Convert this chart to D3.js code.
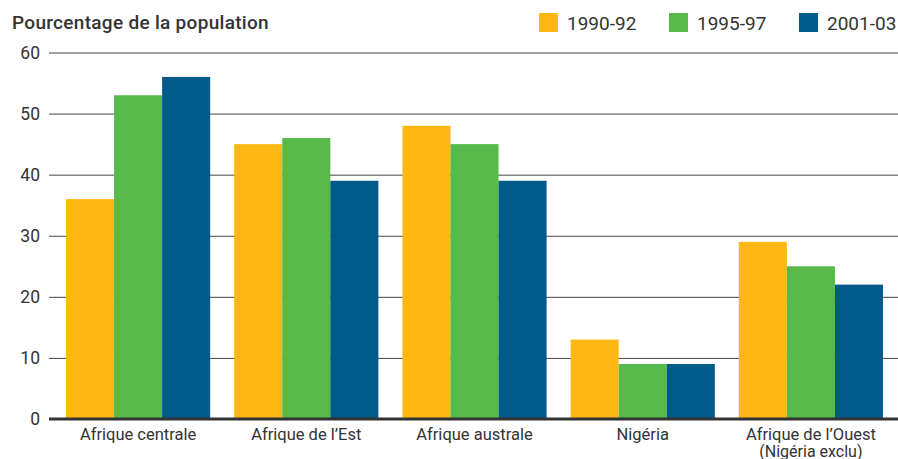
<!DOCTYPE html>
<html>
<head>
<meta charset="utf-8">
<script src="https://cdn.jsdelivr.net/npm/d3@7"></script>
<style>
  body { margin: 0; background: #fff; }
  text { font-family: Roboto, "Liberation Sans", sans-serif; fill: #333; }
</style>
</head>
<body>
<div id="chart"></div>
<script>
// data
const categories = ["Afrique centrale", "Afrique de l\u2019Est", "Afrique australe", "Nigéria", "Afrique de l\u2019Ouest\n(Nigéria exclu)"];
const seriesNames = ["1990-92", "1995-97", "2001-03"];
const values1990 = [36, 45, 48, 13, 29];
const values1995 = [53, 46, 45, 9, 25];
const values2001 = [56, 39, 39, 9, 22];
const yTicks = [0, 10, 20, 30, 40, 50, 60];
const colors = ["#fdb813", "#57b94a", "#005a8a"];

const width = 898, height = 459;
const allSeries = [values1990, values1995, values2001];

const svg = d3.select("#chart").append("svg")
    .attr("width", width)
    .attr("height", height);

const x0 = d3.scaleBand()
    .domain(categories)
    .range([66, 883])
    .paddingInner(24 / 168)
    .paddingOuter(0);

const x1 = d3.scaleBand()
    .domain(seriesNames)
    .range([0, x0.bandwidth()]);

const y = d3.scaleLinear()
    .domain([0, 60])
    .range([419, 52.5]);

// gridlines + y labels
const yAxis = d3.axisLeft(y)
    .tickValues(yTicks)
    .tickSize(-(width - 49))
    .tickPadding(9);

const yG = svg.append("g")
    .attr("transform", "translate(49,0)")
    .call(yAxis);
yG.select(".domain").remove();
yG.selectAll(".tick line").attr("stroke", "#444").attr("stroke-width", 1);
yG.selectAll(".tick text")
    .attr("x", -9)
    .style("font-size", "17.5px")
    .style("fill", "#333");

// bars
const groups = svg.append("g")
    .selectAll("g")
    .data(categories)
    .join("g")
    .attr("transform", d => `translate(${x0(d)},0)`);

groups.selectAll("rect")
    .data((d, i) => seriesNames.map((s, j) => ({s, v: allSeries[j][i], j})))
    .join("rect")
    .attr("x", d => x1(d.s))
    .attr("width", x1.bandwidth())
    .attr("y", d => y(d.v))
    .attr("height", d => y(0) - y(d.v))
    .attr("fill", d => colors[d.j]);

// zero line
svg.append("line")
    .attr("x1", 49)
    .attr("x2", width)
    .attr("y1", y(0))
    .attr("y2", y(0))
    .attr("stroke", "#333")
    .attr("stroke-width", 3);

// category labels, one text per line
const labelLines = [];
categories.forEach(c => c.split("\n").forEach((l, i) => labelLines.push({c, l, i})));

svg.append("g").selectAll("text")
    .data(labelLines)
    .join("text")
    .attr("text-anchor", "middle")
    .attr("x", d => x0(d.c) + x0.bandwidth() / 2)
    .attr("y", d => d.i === 0 ? 440 : 456.5)
    .style("font-size", d => d.i === 0 ? "16.5px" : "16px")
    .text(d => d.l);

// title
svg.append("text")
    .attr("x", 12)
    .attr("y", 29)
    .style("font-size", "19px")
    .style("font-weight", 500)
    .style("letter-spacing", "0.3px")
    .text("Pourcentage de la population");

// legend
const legendX = [539, 669, 799];
const legend = svg.append("g")
    .selectAll("g")
    .data(seriesNames)
    .join("g")
    .attr("transform", (d, i) => `translate(${legendX[i]},13)`);

legend.append("rect")
    .attr("width", 19)
    .attr("height", 19)
    .attr("fill", (d, i) => colors[i]);

legend.append("text")
    .attr("x", 28)
    .attr("y", 16.5)
    .style("font-size", "19px")
    .text(d => d);
</script>
</body>
</html>
